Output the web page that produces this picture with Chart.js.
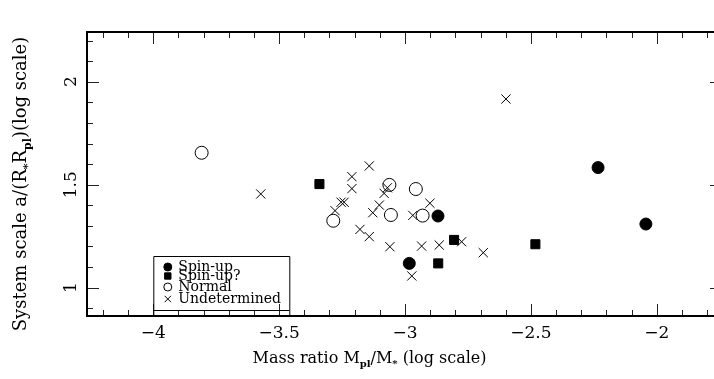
<!DOCTYPE html>
<html><head><meta charset="utf-8">
<script src="https://cdn.jsdelivr.net/npm/chart.js@4/dist/chart.umd.min.js"></script>
<style>html,body{margin:0;padding:0;overflow:hidden;background:#fff}</style>
</head><body>
<canvas id="c" width="730" height="379"></canvas>
<script>
// ---- data (log mass ratio, log system scale) ----
const spinUpX  = [-2.869, -2.983, -2.233, -2.043];
const spinUpY  = [ 1.348,  1.118,  1.583,  1.309];
const spinUpQX = [-3.340, -2.805, -2.868, -2.482];
const spinUpQY = [ 1.503,  1.232,  1.118,  1.211];
const normalX  = [-3.808, -3.285, -3.062, -2.957, -3.056, -2.930];
const normalY  = [ 1.655,  1.325,  1.499,  1.479,  1.353,  1.350];
const undetX   = [-3.142, -3.211, -3.211, -3.278, -3.254, -3.242, -3.102, -3.128, -3.083, -3.070,
                  -3.179, -3.142, -3.060, -2.969, -2.901, -2.934, -2.864, -2.775, -2.689, -2.973,
                  -2.599, -3.573];
const undetY   = [ 1.591,  1.539,  1.481,  1.374,  1.415,  1.415,  1.401,  1.364,  1.458,  1.485,
                   1.283,  1.248,  1.199,  1.351,  1.410,  1.202,  1.207,  1.223,  1.170,  1.057,
                   1.916,  1.455];
// ---- axes ----
const xMajorTicks = [-4, -3.5, -3, -2.5, -2];
const xTickLabels = ['\u22124', '\u22123.5', '\u22123', '\u22122.5', '\u22122'];
const xMinorTicks = [-4.2, -4.1, -3.9, -3.8, -3.7, -3.6, -3.4, -3.3, -3.2, -3.1, -2.9, -2.8, -2.7,
                     -2.6, -2.4, -2.3, -2.2, -2.1, -1.9, -1.8];
const yMajorTicks = [1, 1.5, 2];
const yTickLabels = ['1', '1.5', '2'];
const yMinorTicks = [0.9, 1.1, 1.2, 1.3, 1.4, 1.6, 1.7, 1.8, 1.9, 2.1, 2.2];
const xRange = [-4.2634, -1.7406];
const yRange = [0.8626, 2.2413];
const legendLabels = ['Spin-up', 'Spin-up?', 'Normal', 'Undetermined'];

const FONT = '"DejaVu Serif", serif';
const pts = (xs, ys) => xs.map((x, i) => ({x: x, y: ys[i]}));

function richText(ctx, parts, size) {
  let w = 0;
  parts.forEach(p => {
    ctx.font = (p.sub ? 'bold ' + Math.round(size * 0.62) : size) + 'px ' + FONT;
    p.w = ctx.measureText(p.t).width; w += p.w;
  });
  return w;
}
function drawRich(ctx, parts, size, x, y) {
  const w = richText(ctx, parts, size);
  let cx = x - w / 2;
  ctx.textAlign = 'left'; ctx.textBaseline = 'alphabetic';
  parts.forEach(p => {
    ctx.font = (p.sub ? 'bold ' + Math.round(size * 0.62) : size) + 'px ' + FONT;
    ctx.fillText(p.t, cx, y + (p.sub ? size * 0.28 : 0));
    cx += p.w;
  });
}

const axesPlugin = {
  id: 'axesPlugin',
  afterDraw(chart) {
    const ctx = chart.ctx, a = chart.chartArea;
    const xs = chart.scales.x, ys = chart.scales.y;
    ctx.save();
    ctx.strokeStyle = '#222'; ctx.lineWidth = 1;
    const MAJ = 12, MIN = 6;
    ctx.beginPath();
    xMajorTicks.forEach(v => { const p = Math.round(xs.getPixelForValue(v)) + 0.5;
      ctx.moveTo(p, a.bottom); ctx.lineTo(p, a.bottom - MAJ); ctx.moveTo(p, a.top); ctx.lineTo(p, a.top + MAJ); });
    xMinorTicks.forEach(v => { const p = Math.round(xs.getPixelForValue(v)) + 0.5;
      ctx.moveTo(p, a.bottom); ctx.lineTo(p, a.bottom - MIN); ctx.moveTo(p, a.top); ctx.lineTo(p, a.top + MIN); });
    yMajorTicks.forEach(v => { const p = Math.round(ys.getPixelForValue(v)) + 0.5;
      ctx.moveTo(a.left, p); ctx.lineTo(a.left + MAJ, p); ctx.moveTo(a.right, p); ctx.lineTo(a.right - MAJ, p); });
    yMinorTicks.forEach(v => { const p = Math.round(ys.getPixelForValue(v)) + 0.5;
      ctx.moveTo(a.left, p); ctx.lineTo(a.left + MIN, p); ctx.moveTo(a.right, p); ctx.lineTo(a.right - MIN, p); });
    ctx.stroke();
    // frame
    ctx.strokeStyle = '#000'; ctx.lineWidth = 2;
    ctx.strokeRect(a.left, a.top, a.right - a.left, a.bottom - a.top);
    // x tick labels
    ctx.fillStyle = '#000';
    ctx.font = '17px ' + FONT; ctx.textAlign = 'center'; ctx.textBaseline = 'middle';
    xMajorTicks.forEach((v, i) => ctx.fillText(xTickLabels[i], xs.getPixelForValue(v), a.bottom + 18));
    // y tick labels (rotated)
    yMajorTicks.forEach((v, i) => {
      ctx.save(); ctx.translate(a.left - 15, ys.getPixelForValue(v)); ctx.rotate(-Math.PI / 2);
      ctx.fillText(yTickLabels[i], 0, 0); ctx.restore();
    });
    // axis titles
    drawRich(ctx, [{t: 'Mass ratio M'}, {t: 'pl', sub: true}, {t: '/M'}, {t: '*', sub: true}, {t: ' (log scale)'}],
             16, (a.left + a.right) / 2 - 35, a.bottom + 47);
    ctx.save(); ctx.translate(26, (a.top + a.bottom) / 2 + 10); ctx.rotate(-Math.PI / 2);
    drawRich(ctx, [{t: 'System scale a/(R'}, {t: '*', sub: true}, {t: 'R'}, {t: 'pl', sub: true}, {t: ')(log scale)'}], 18, 0, 0);
    ctx.restore();
    // legend box
    const lx = xs.getPixelForValue(-4), lr = lx + 136, lt = a.bottom - 60;
    ctx.lineWidth = 1; ctx.strokeStyle = '#000';
    ctx.beginPath();
    ctx.moveTo(lx + 0.5, a.bottom); ctx.lineTo(lx + 0.5, lt + 0.5); ctx.lineTo(lr + 0.5, lt + 0.5); ctx.lineTo(lr + 0.5, a.bottom);
    ctx.moveTo(lx, a.bottom - 5.5); ctx.lineTo(lr, a.bottom - 5.5);
    ctx.stroke();
    const rowsY = [lt + 11, lt + 20, lt + 31, lt + 43];
    chart.data.datasets.forEach((ds, i) => {
      const y = rowsY[i];
      ctx.fillStyle = ds.legendFill; ctx.strokeStyle = '#000'; ctx.lineWidth = 1;
      Chart.helpers.drawPoint(ctx, {pointStyle: ds.pointStyle, radius: ds.legendRadius, borderWidth: 1, rotation: 0},
        lx + 14.5, y);
      ctx.fillStyle = '#000'; ctx.font = '14px ' + FONT; ctx.textAlign = 'left'; ctx.textBaseline = 'middle';
      ctx.fillText(legendLabels[i], lx + 25, y);
    });
    ctx.restore();
  }
};

new Chart(document.getElementById('c'), {
  type: 'scatter',
  data: {
    datasets: [
      {label: legendLabels[0], data: pts(spinUpX, spinUpY), pointStyle: 'circle', pointRadius: 6,
       backgroundColor: '#000', borderColor: '#000', legendRadius: 4, legendFill: '#000'},
      {label: legendLabels[1], data: pts(spinUpQX, spinUpQY), pointStyle: 'rect', pointRadius: 6.4,
       backgroundColor: '#000', borderColor: '#000', legendRadius: 4.5, legendFill: '#000'},
      {label: legendLabels[2], data: pts(normalX, normalY), pointStyle: 'circle', pointRadius: 6.5,
       backgroundColor: 'rgba(0,0,0,0)', borderColor: '#000', borderWidth: 1, legendRadius: 4, legendFill: '#fff'},
      {label: legendLabels[3], data: pts(undetX, undetY), pointStyle: 'crossRot', pointRadius: 6.5,
       backgroundColor: '#000', borderColor: '#000', borderWidth: 1, legendRadius: 4.5, legendFill: '#000'}
    ]
  },
  options: {
    responsive: false, animation: false, devicePixelRatio: 1,
    layout: {padding: {left: 87, top: 32, right: 8, bottom: 63}},
    plugins: {legend: {display: false}, tooltip: {enabled: false}},
    scales: {
      x: {type: 'linear', display: false, min: xRange[0], max: xRange[1]},
      y: {type: 'linear', display: false, min: yRange[0], max: yRange[1]}
    }
  },
  plugins: [axesPlugin]
});
</script>
</body></html>
